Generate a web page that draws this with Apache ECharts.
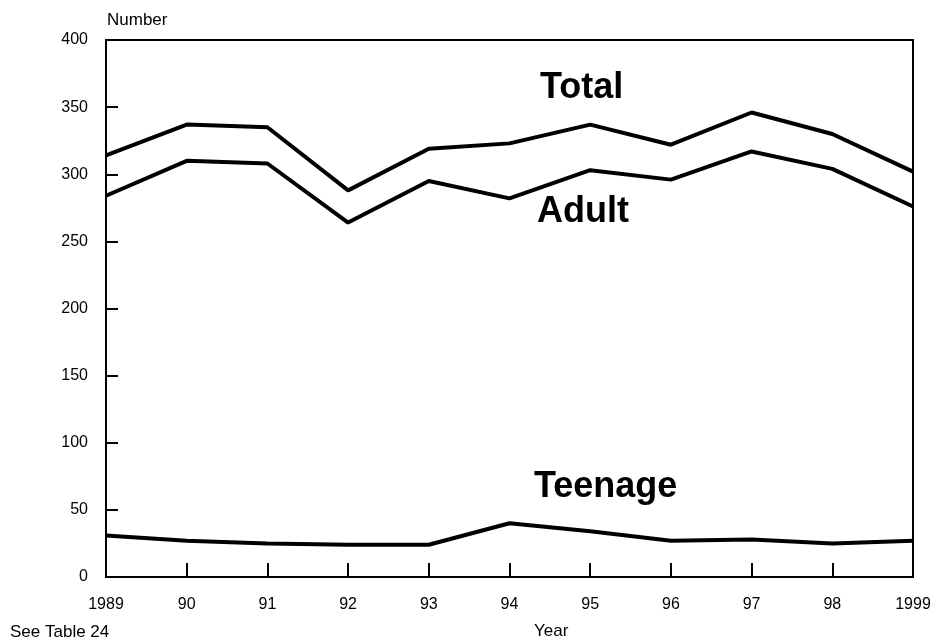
<!DOCTYPE html>
<html><head><meta charset="utf-8">
<script src="https://cdn.jsdelivr.net/npm/echarts@6/dist/echarts.min.js"></script>
<style>html,body{margin:0;padding:0;background:#fff}#c{width:938px;height:641px}</style>
</head><body><div id="c"></div>
<script>
const years = ['1989','90','91','92','93','94','95','96','97','98','1999'];
const total = [314, 337, 335, 288, 319, 323, 337, 322, 346, 330, 302];
const adult = [284, 310, 308, 264, 295, 282, 303, 296, 317, 304, 276];
const teenage = [31, 27, 25, 24, 24, 40, 34, 27, 28, 25, 27];
const yTicks = [0, 50, 100, 150, 200, 250, 300, 350, 400];

const chart = echarts.init(document.getElementById('c'));
const font = 'Liberation Sans, Arial, sans-serif';
const mk = (name, data) => ({
  name, type: 'line', data, symbol: 'none', smooth: false,
  lineStyle: {color: '#000', width: 4}, silent: true
});
const txt = (x, y, text, f) => ({type: 'text', x, y, silent: true,
  style: {text, font: f, fill: '#000', verticalAlign: 'middle'}});
chart.setOption({
  animation: false,
  grid: {left: 106, right: 25, top: 40, bottom: 64},
  xAxis: {
    type: 'category', data: years, boundaryGap: false,
    axisLine: {lineStyle: {color: '#000', width: 2}},
    axisTick: {inside: true, length: 14, lineStyle: {color: '#000', width: 2}},
    axisLabel: {color: '#000', fontSize: 16, fontFamily: font, margin: 20, showMinLabel: true, showMaxLabel: true, interval: 0},
    splitLine: {show: false}
  },
  yAxis: {
    type: 'value', min: yTicks[0], max: yTicks[yTicks.length-1], interval: 50,
    axisLine: {show: true, lineStyle: {color: '#000', width: 2}},
    axisTick: {show: true, inside: true, length: 12, lineStyle: {color: '#000', width: 2}},
    axisLabel: {color: '#000', fontSize: 16, fontFamily: font, margin: 18},
    splitLine: {show: false}
  },
  graphic: [
    {type: 'rect', shape: {x: 106, y: 40, width: 807, height: 537}, style: {fill: 'none', stroke: '#000', lineWidth: 2}, silent: true, z: 0},
    txt(107, 20, 'Number', '17px ' + font),
    txt(534, 631, 'Year', '17px ' + font),
    txt(10, 632, 'See Table 24', '17px ' + font),
    txt(540, 88, 'Total', 'bold 36px ' + font),
    txt(537, 212, 'Adult', 'bold 36px ' + font),
    txt(534, 487, 'Teenage', 'bold 36px ' + font)
  ],
  series: [mk('Total', total), mk('Adult', adult), mk('Teenage', teenage)]
});
</script></body></html>
